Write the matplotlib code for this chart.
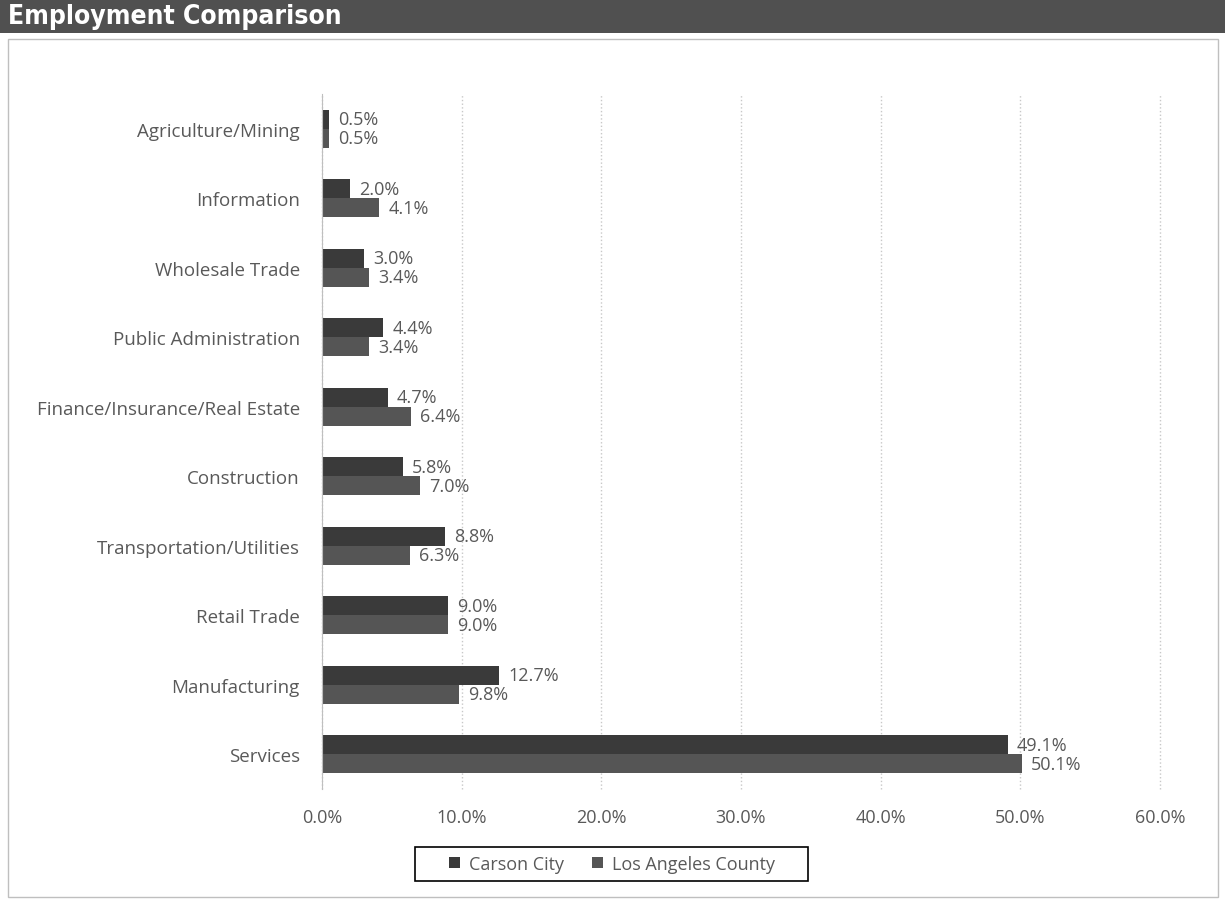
import matplotlib.pyplot as plt
from matplotlib.patches import Rectangle
import numpy as np

categories = ["Services", "Manufacturing", "Retail Trade", "Transportation/Utilities",
              "Construction", "Finance/Insurance/Real Estate", "Public Administration",
              "Wholesale Trade", "Information", "Agriculture/Mining"]
carson = [49.1, 12.7, 9.0, 8.8, 5.8, 4.7, 4.4, 3.0, 2.0, 0.5]
la_county = [50.1, 9.8, 9.0, 6.3, 7.0, 6.4, 3.4, 3.4, 4.1, 0.5]
xticks = [0, 10, 20, 30, 40, 50, 60]

textGrey = "#595959"
font = ["Open Sans", "DejaVu Sans"]

fig = plt.figure(figsize=(12.25, 9.03), dpi=100)
W, H = 1225.0, 903.0

# Title bar
fig.patches.append(Rectangle((0, 1 - 34 / H), 1, 34 / H, transform=fig.transFigure,
                             facecolor="#505050", edgecolor="none", zorder=-2))
fig.text(8 / W, 1 - 17 / H, "Employment Comparison", color="white", fontsize=19,
         fontweight="bold", family=["Liberation Sans Narrow", "DejaVu Sans"],
         stretch="condensed", va="center", ha="left")

# Chart border
fig.patches.append(Rectangle((8 / W, 5 / H), 1210 / W, 858 / H,
                             transform=fig.transFigure, facecolor="white",
                             edgecolor="#bfbfbf", linewidth=1, zorder=-2))

ax = fig.add_axes([322 / W, 113 / H, 838 / W, 695 / H])
ax.set_zorder(1)
ax.set_facecolor("none")

y = np.arange(len(categories))
h = 0.27
b1 = ax.barh(y + h / 2, carson, height=h, color="#3a3a3a", label="Carson City")
b2 = ax.barh(y - h / 2, la_county, height=h, color="#555555", label="Los Angeles County")

for bars, vals in ((b1, carson), (b2, la_county)):
    for bar, v in zip(bars, vals):
        ax.annotate(f"{v:.1f}%", (v, bar.get_y() + bar.get_height() / 2),
                    xytext=(9, 0), textcoords="offset pixels",
                    va="center", ha="left", fontsize=13, color=textGrey, family=font)

ax.set_xlim(0, 60)
ax.set_ylim(-0.5, len(categories) - 0.5)
ax.set_xticks(xticks)
ax.set_xticklabels([f"{t:.1f}%" for t in xticks], family=font)
ax.set_yticks(y)
ax.set_yticklabels(categories, family=font, fontsize=13.5)
ax.tick_params(axis="both", length=0, labelcolor=textGrey)
ax.tick_params(axis="x", pad=14, labelsize=13)
ax.tick_params(axis="y", pad=16)

ax.grid(axis="x", color="#c8c8c8", linestyle=":", linewidth=1, clip_on=False)
ax.set_axisbelow(True)
for s in ["top", "right", "bottom"]:
    ax.spines[s].set_visible(False)
ax.spines["left"].set_color("#bfbfbf")

# Legend with its own box
leg = ax.legend(loc="center", bbox_to_anchor=(612 / W, 1 - 865 / H),
                bbox_transform=fig.transFigure, ncol=2, frameon=False,
                handlelength=0.6, handleheight=0.6, handletextpad=0.5,
                columnspacing=1.6, prop={"family": font, "size": 13})
for t in leg.get_texts():
    t.set_color(textGrey)
fig.patches.append(Rectangle((415 / W, 1 - 882 / H), 393 / W, 34 / H,
                             transform=fig.transFigure, facecolor="none",
                             edgecolor="black", linewidth=1.2, zorder=3))

fig.savefig("out.png", dpi=100)
